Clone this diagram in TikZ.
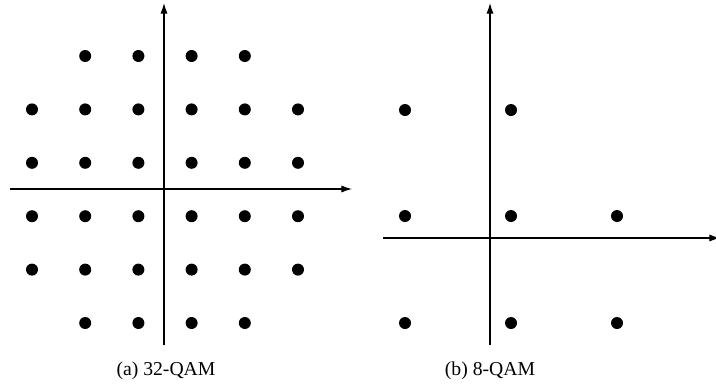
\documentclass[tikz,border=0pt]{standalone}
\usepackage{fontspec}
\setmainfont{Liberation Serif}
\usetikzlibrary{arrows.meta,positioning}
\newlength{\pxunit}
\setlength{\pxunit}{0.02cm}
\tikzset{
  axis/.style={line width=0.6pt, -{Latex[length=6pt,width=4pt]}},
  symbol/.style={circle, fill=black, inner sep=0pt, minimum size=12\pxunit},
  caption/.style={font=\fontsize{11.2}{13}\selectfont, anchor=base}
}

\begin{document}
\begin{tikzpicture}[x=0.02cm, y=-0.02cm]
\useasboundingbox (0,0) rectangle (716,386);
% 32-QAM
\coordinate (aW) at (10,189);
\coordinate (aE) at (352,189);
\coordinate (aS) at (164,345);
\coordinate (aN) at (164,3);
\draw[axis] (aW) -- (aE);
\draw[axis] (aS) -- (aN);
\foreach \i in {0,...,5}
  \foreach \j in {0,...,5}
  {
    \pgfmathtruncatemacro{\corner}{(\i==0 || \i==5) && (\j==0 || \j==5)}
    \ifnum\corner=0
      \node[symbol] (a\i\j) at ({32+53.2*\i},{56+53.4*\j}) {};
    \fi
  }
\node[caption] (capa) at (166,375) {(a) 32-QAM};
% 8-QAM
\coordinate (bW) at (383,238);
\coordinate (bE) at (720,238);
\coordinate (bS) at (490,345);
\coordinate (bN) at (490,3);
\draw[axis] (bW) -- (bE);
\draw[axis] (bS) -- (bN);
\foreach \p/\q [count=\k] in {405/110, 511/110, 405/216, 511/216, 617/216, 405/323, 511/323, 617/323}
  \node[symbol] (b\k) at (\p,\q) {};
\node[caption] (capb) at (490,375) {(b) 8-QAM};
\end{tikzpicture}
\end{document}
